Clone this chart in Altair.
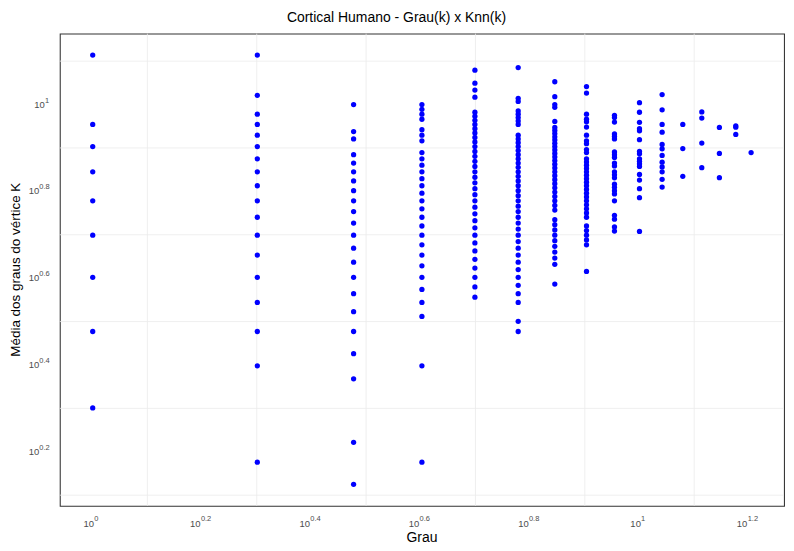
import altair as alt
import pandas as pd

FONTE = 'Liberation Sans'

# Grau k de cada vertice e soma dos graus dos seus vizinhos (Knn(k) = soma / k)
graus = [1, 2, 3, 4, 5, 6, 7, 8, 9, 10, 11, 12, 13, 14, 15, 16]
soma_k1 = [13, 9, 8, 7, 6, 5, 4, 3, 2]
soma_k2 = [26, 21, 19, 18, 17, 16, 15, 14, 13, 12, 11, 10, 9, 8, 7, 6, 5, 3]
soma_k3 = [30, 26, 25, 23, 22, 21, 20, 19, 18, 17, 16, 15, 14, 13, 12, 11, 10, 9, 8, 7, 5, 4]
soma_k4 = [40, 39, 38, 37, 35, 34, 33, 31, 30, 29, 28, 27, 26, 25, 24, 23, 22, 21, 20,
           19, 18, 17, 16, 15, 14, 13, 10, 6]
soma_k5 = [60, 56, 54, 52, 48, 47, 46, 45, 44, 43, 42, 41, 40, 39, 38, 37, 36, 35, 34,
           33, 32, 31, 30, 29, 28, 27, 26, 25, 24, 23, 22, 21, 20, 19, 18]
soma_k6 = [73, 62, 61, 58, 57, 56, 55, 54, 51, 50, 49, 48, 47, 46, 45, 44, 43, 42, 41,
           40, 39, 38, 37, 36, 35, 34, 33, 32, 31, 30, 29, 28, 27, 26, 25, 24, 23, 22,
           21, 19, 18]
soma_k7 = [79, 73, 70, 69, 64, 62, 61, 60, 59, 58, 57, 56, 55, 54, 53, 52, 51, 50, 49,
           48, 47, 46, 45, 44, 43, 42, 41, 40, 38, 37, 36, 35, 34, 33, 32, 31, 30, 27]
soma_k8 = [88, 85, 76, 74, 73, 71, 68, 66, 65, 63, 62, 60, 59, 58, 57, 56, 55, 54, 53,
           52, 51, 50, 49, 48, 47, 46, 45, 44, 42, 41, 40, 39, 38, 33]
soma_k9 = [85, 84, 82, 77, 76, 75, 70, 69, 68, 66, 65, 63, 62, 61, 59, 58, 57, 56, 54,
           50, 49, 47, 46]
soma_k10 = [101, 96, 91, 88, 87, 83, 78, 77, 75, 74, 73, 72, 69, 67, 64, 61, 51]
soma_k11 = [116, 107, 99, 95, 89, 87, 84, 81, 79, 77, 74, 71]
soma_k12 = [108, 95, 82]
soma_k13 = [125, 121, 106, 93]
soma_k14 = [124, 108, 95]
soma_k15 = [134, 133, 128]
soma_k16 = [124]

somas = [soma_k1, soma_k2, soma_k3, soma_k4, soma_k5, soma_k6, soma_k7, soma_k8,
         soma_k9, soma_k10, soma_k11, soma_k12, soma_k13, soma_k14, soma_k15, soma_k16]

linhas = []
for k, lista in zip(graus, somas):
    for s in lista:
        linhas.append({'grau': k, 'knn': s / k})
df = pd.DataFrame(linhas)

# expoentes das marcas dos eixos (10^e) e das linhas de grade menores
x_expoentes = ['0', '0.2', '0.4', '0.6', '0.8', '1', '1.2']
y_expoentes = ['0.2', '0.4', '0.6', '0.8', '1']
x_menores = [0.1, 0.3, 0.5, 0.7, 0.9, 1.1]
y_menores = [0.1, 0.3, 0.5, 0.7, 0.9, 1.1]

titulo = 'Cortical Humano - Grau(k) x Knn(k)'
titulo_x = 'Grau'
titulo_y = 'Média dos graus do vértice K'

W, H = 727, 474
x_scale = alt.Scale(type='log', domain=[10 ** -0.0602, 10 ** 1.2643], nice=False)
y_scale = alt.Scale(type='log', domain=[10 ** 0.0755, 10 ** 1.1634], nice=False)

pontos = alt.Chart(df).mark_circle(size=28, color='#0000FF', opacity=1).encode(
    x=alt.X('grau:Q', scale=x_scale,
            axis=alt.Axis(values=[10 ** float(e) for e in x_expoentes], title=None)),
    y=alt.Y('knn:Q', scale=y_scale,
            axis=alt.Axis(values=[10 ** float(e) for e in y_expoentes], title=None)),
)

grade_x = alt.Chart(pd.DataFrame({'p': [10 ** v for v in x_menores]})).mark_rule(
    color='#EBEBEB', strokeWidth=0.8
).encode(x=alt.X('p:Q', scale=x_scale, axis=None))

grade_y = alt.Chart(pd.DataFrame({'p': [10 ** v for v in y_menores]})).mark_rule(
    color='#EBEBEB', strokeWidth=0.8
).encode(y=alt.Y('p:Q', scale=y_scale, axis=None))


def rotulos_x(exps, dx10, dxexp):
    d = pd.DataFrame({'p': [10 ** float(e) for e in exps], 'e': exps})
    dez = alt.Chart(d).mark_text(
        text='10', align='right', baseline='middle', dx=dx10,
        font=FONTE, fontSize=9.5, color='#4D4D4D'
    ).encode(x=alt.X('p:Q', scale=x_scale, axis=None), y=alt.value(H + 18.3))
    expo = alt.Chart(d).mark_text(
        align='left', baseline='middle', dx=dxexp,
        font=FONTE, fontSize=7.5, color='#4D4D4D'
    ).encode(x=alt.X('p:Q', scale=x_scale, axis=None), y=alt.value(H + 13.3),
             text='e:N')
    return [dez, expo]


def rotulos_y(exps, x10, xexp):
    d = pd.DataFrame({'p': [10 ** float(e) for e in exps], 'e': exps})
    dez = alt.Chart(d).mark_text(
        text='10', align='right', baseline='middle',
        font=FONTE, fontSize=9.5, color='#4D4D4D'
    ).encode(y=alt.Y('p:Q', scale=y_scale, axis=None), x=alt.value(x10))
    expo = alt.Chart(d).mark_text(
        align='left', baseline='middle', dy=-4,
        font=FONTE, fontSize=7.5, color='#4D4D4D'
    ).encode(y=alt.Y('p:Q', scale=y_scale, axis=None), x=alt.value(xexp),
             text='e:N')
    return [dez, expo]


rot = []
rot += rotulos_x([e for e in x_expoentes if len(e) > 1], -1.5, -1.2)
rot += rotulos_x([e for e in x_expoentes if len(e) == 1], 1.4, 1.6)
rot += rotulos_y([e for e in y_expoentes if len(e) > 1], -20.7, -20.6)
rot += rotulos_y([e for e in y_expoentes if len(e) == 1], -15, -14.8)

txt_titulo = alt.Chart(pd.DataFrame({'t': [titulo]})).mark_text(
    align='center', baseline='alphabetic', font=FONTE, fontSize=14, color='black'
).encode(x=alt.value(338), y=alt.value(-12), text='t:N')

txt_x = alt.Chart(pd.DataFrame({'t': [titulo_x]})).mark_text(
    align='center', baseline='alphabetic', font=FONTE, fontSize=14, color='black'
).encode(x=alt.value(W / 2), y=alt.value(H + 36.5), text='t:N')

txt_y = alt.Chart(pd.DataFrame({'t': [titulo_y]})).mark_text(
    align='center', baseline='alphabetic', angle=270, font=FONTE, fontSize=13.5,
    color='black'
).encode(x=alt.value(-39.5), y=alt.value(H / 2), text='t:N')

chart = alt.layer(grade_x, grade_y, pontos, *rot, txt_titulo, txt_x, txt_y).properties(
    width=W, height=H,
    padding={'left': 52, 'top': 24.7, 'right': 2, 'bottom': 38},
    autosize=alt.AutoSizeParams(type='none'),
).configure_view(
    stroke='#333333', strokeWidth=1.07
).configure_axis(
    labels=False, domain=False, grid=True, gridColor='#E8E8E8', gridWidth=1.3,
    ticks=True, tickColor='#333333', tickWidth=1.07, tickSize=3
)

chart.save('out.html', embed_options={'renderer': 'svg', 'actions': False})
